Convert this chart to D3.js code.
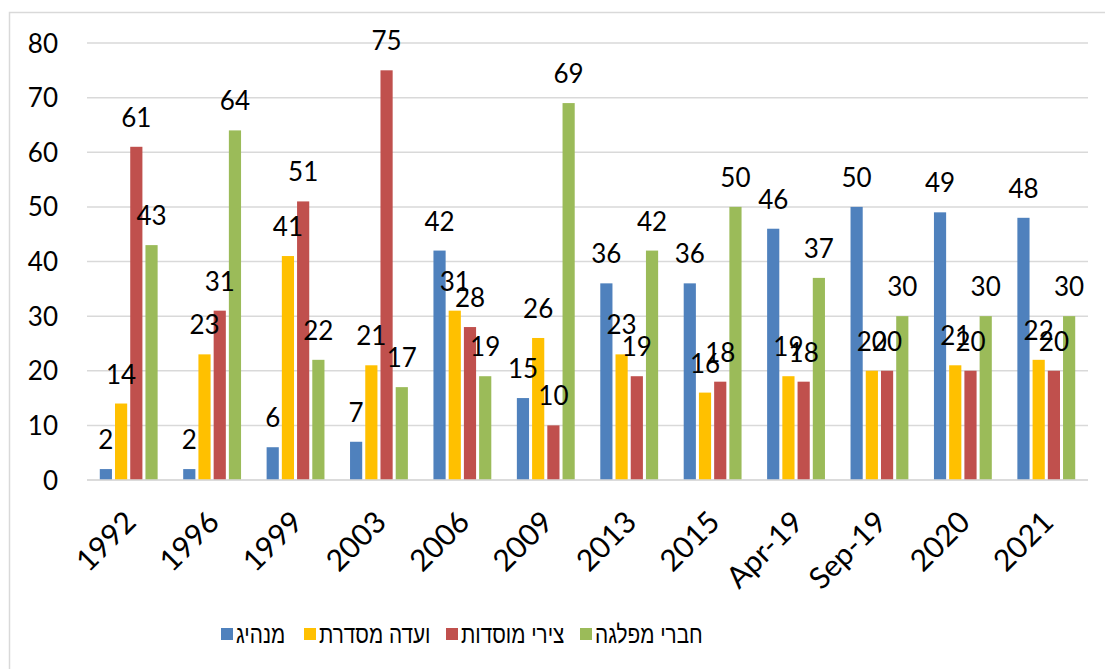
<!DOCTYPE html>
<html>
<head>
<meta charset="utf-8">
<script src="https://cdn.jsdelivr.net/npm/d3@7"></script>
<style>
  html, body { margin: 0; padding: 0; background: #fff; }
  svg { display: block; }
</style>
</head>
<body>
<svg id="chart" width="1105" height="669"></svg>
<script>
// Election years / rounds
const categories = ["1992", "1996", "1999", "2003", "2006", "2009", "2013", "2015", "Apr-19", "Sep-19", "2020", "2021"];

// Series names (legend) and colours
const seriesNames = ["מנהיג", "ועדה מסדרת", "צירי מוסדות", "חברי מפלגה"];
const seriesColors = ["#4f81bd", "#ffc000", "#c0504d", "#9bbb59"];

// Values per series, one per category
const leaderValues      = [2, 2, 6, 7, 42, 15, 36, 36, 46, 50, 49, 48];
const committeeValues   = [14, 23, 41, 21, 31, 26, 23, 16, 19, 20, 21, 22];
const delegatesValues   = [61, 31, 51, 75, 28, 10, 19, 18, 18, 20, 20, 20];
const membersValues     = [43, 64, 22, 17, 19, 69, 42, 50, 37, 30, 30, 30];

// Y axis ticks
const yTicks = [0, 10, 20, 30, 40, 50, 60, 70, 80];

const seriesValues = [leaderValues, committeeValues, delegatesValues, membersValues];

const svg = d3.select("#chart");
const numFont = "Lato, Carlito, Calibri, 'Liberation Sans', sans-serif";
const hebFont = "'Liberation Sans', Arial, 'DejaVu Sans', sans-serif";

// Chart frame
svg.append("rect")
  .attr("x", 9.5).attr("y", 12.5)
  .attr("width", 1110).attr("height", 680)
  .attr("fill", "#fff")
  .attr("stroke", "#d9d9d9")
  .attr("stroke-width", 1.5);

const plot = { left: 87, right: 1088, top: 43, bottom: 480 };

const x0 = d3.scaleBand()
  .domain(categories)
  .range([plot.left, plot.right])
  .paddingInner(0.27)
  .paddingOuter(0.135);

const x1 = d3.scaleBand()
  .domain(d3.range(seriesNames.length))
  .range([0, x0.bandwidth()])
  .paddingInner(0.2)
  .paddingOuter(0.1);

const y = d3.scaleLinear()
  .domain([0, 80])
  .range([plot.bottom, plot.top]);

// Horizontal gridlines
svg.append("g")
  .selectAll("line")
  .data(yTicks)
  .join("line")
  .attr("x1", plot.left).attr("x2", plot.right)
  .attr("y1", d => y(d)).attr("y2", d => y(d))
  .attr("stroke", "#d9d9d9")
  .attr("stroke-width", 1.5);

// Y axis labels
const yAxis = d3.axisLeft(y).tickValues(yTicks).tickSize(0).tickPadding(0);
svg.append("g")
  .attr("transform", `translate(${plot.left - 29},0)`)
  .call(yAxis)
  .call(g => g.select(".domain").remove())
  .call(g => g.selectAll("text")
    .attr("font-family", numFont)
    .attr("font-size", 26)
    .attr("fill", "#000")
    .attr("dy", "0.35em"));

// Bars
const groups = svg.append("g")
  .selectAll("g")
  .data(categories)
  .join("g")
  .attr("transform", d => `translate(${x0(d)},0)`);

groups.selectAll("rect")
  .data((c, i) => seriesValues.map((vals, s) => ({ s, v: vals[i] })))
  .join("rect")
  .attr("x", d => x1(d.s))
  .attr("width", x1.bandwidth())
  .attr("y", d => y(d.v))
  .attr("height", d => y(0) - y(d.v))
  .attr("fill", d => seriesColors[d.s]);

// Value labels above bars
groups.selectAll("text")
  .data((c, i) => seriesValues.map((vals, s) => ({ s, v: vals[i] })))
  .join("text")
  .attr("x", d => x1(d.s) + x1.bandwidth() / 2)
  .attr("y", d => y(d.v) - 20)
  .attr("text-anchor", "middle")
  .attr("font-family", numFont)
  .attr("font-size", 26)
  .attr("fill", "#000")
  .text(d => d.v);

// X axis line
svg.append("line")
  .attr("x1", plot.left).attr("x2", plot.right)
  .attr("y1", plot.bottom).attr("y2", plot.bottom)
  .attr("stroke", "#d9d9d9")
  .attr("stroke-width", 1.5);

// Rotated category labels
const xAxis = d3.axisBottom(x0).tickSize(0).tickPadding(0);
svg.append("g")
  .attr("transform", `translate(0,${plot.bottom})`)
  .call(xAxis)
  .call(g => g.select(".domain").remove())
  .call(g => g.selectAll("text")
    .attr("font-family", numFont)
    .attr("font-size", 30)
    .attr("fill", "#000")
    .attr("text-anchor", "end")
    .attr("dy", 0)
    .attr("y", 0)
    .attr("transform", "translate(9,44) rotate(-45)"));

// Legend
const legendItems = [
  { name: seriesNames[0], color: seriesColors[0], x: 221 },
  { name: seriesNames[1], color: seriesColors[1], x: 304 },
  { name: seriesNames[2], color: seriesColors[2], x: 446 },
  { name: seriesNames[3], color: seriesColors[3], x: 580 }
];
const legend = svg.append("g");
const li = legend.selectAll("g")
  .data(legendItems)
  .join("g")
  .attr("transform", d => `translate(${d.x},634)`);
li.append("rect")
  .attr("x", 0).attr("y", -6)
  .attr("width", 12).attr("height", 12)
  .attr("fill", d => d.color);
// Hebrew labels use a condensed face
li.append("text")
  .attr("transform", "translate(15,0) scale(0.83,1)")
  .attr("dy", "0.35em")
  .attr("font-family", hebFont)
  .attr("font-size", 25)
  .attr("fill", "#000")
  .text(d => d.name);
</script>
</body>
</html>
